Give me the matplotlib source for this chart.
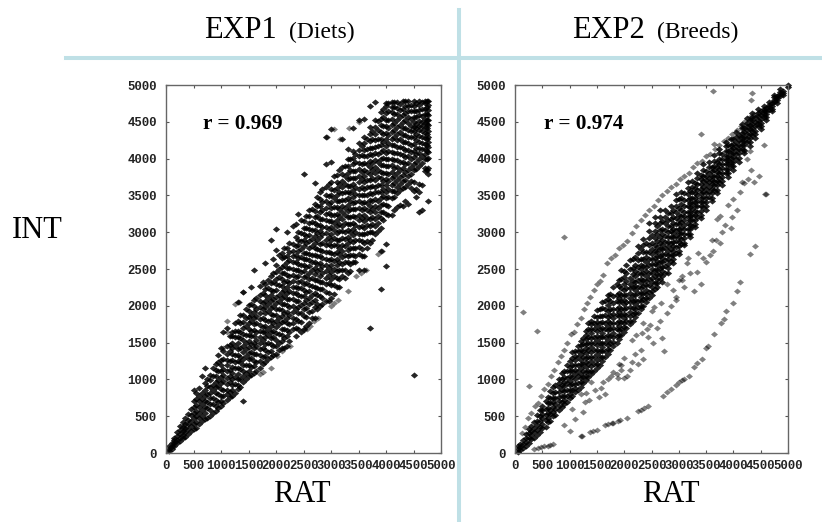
#plot.py

import matplotlib
matplotlib.use('Agg')
import matplotlib.pyplot as plt

W, H = 822, 522

ticks = [0, 500, 1000, 1500, 2000, 2500, 3000, 3500, 4000, 4500, 5000]

# EXP1 : RAT value, then the INT values read at that RAT value
exp1_rat = [50, 100, 150, 200, 250, 300, 350, 400, 450, 500, 550, 600, 650, 700, 800, 900, 1000,
            1100, 1200, 1300, 1400, 1500, 1600, 1700, 1800, 1900, 2000, 2100, 2200, 2300, 2400,
            2500, 2600, 2700, 2800, 2900, 3000, 3100, 3200, 3300, 3400, 3500, 3600, 3700, 3800,
            3900, 4000, 4100, 4200, 4300, 4400, 4500, 4600, 4700, 4770]
exp1_int = [
    [30, 60, 90],
    [60, 100, 140],
    [90, 130, 170, 210],
    [130, 180, 230, 280],
    [160, 210, 260, 310, 370],
    [200, 250, 300, 350, 420],
    [220, 280, 340, 400, 470],
    [260, 320, 390, 450, 530],
    [300, 370, 440, 510, 600],
    [330, 400, 470, 540, 620, 700, 850],
    [340, 420, 500, 570, 650, 730, 810],
    [390, 470, 540, 620, 700, 780, 880],
    [430, 500, 580, 660, 740, 820, 1050],
    [460, 540, 620, 700, 780, 860, 950, 1150],
    [500, 590, 670, 750, 820, 900, 990, 1060],
    [570, 640, 720, 810, 890, 970, 1050, 1130, 1210],
    [640, 700, 780, 870, 950, 1030, 1110, 1190, 1270, 1420],
    [720, 800, 860, 940, 1020, 1110, 1190, 1270, 1350, 1450, 1700],
    [780, 850, 930, 1010, 1090, 1170, 1260, 1340, 1420, 1500, 1590, 1650],
    [870, 920, 1000, 1080, 1160, 1250, 1330, 1410, 1490, 1570, 1660, 1790, 2050],
    [700, 960, 1040, 1120, 1200, 1280, 1370, 1450, 1530, 1620, 1700, 1780, 1870, 2190],
    [1040, 1110, 1190, 1280, 1360, 1440, 1520, 1610, 1690, 1770, 1850, 1930, 2010],
    [1090, 1180, 1250, 1340, 1420, 1500, 1590, 1670, 1750, 1840, 1920, 2000, 2080, 2490],
    [1150, 1250, 1330, 1410, 1490, 1570, 1660, 1740, 1820, 1900, 1990, 2070, 2150, 2270],
    [1240, 1320, 1400, 1480, 1570, 1650, 1730, 1810, 1900, 1980, 2060, 2150, 2230, 2300, 2580],
    [1310, 1390, 1480, 1560, 1640, 1730, 1810, 1890, 1970, 2060, 2140, 2220, 2310, 2400, 2900],
    [1340, 1460, 1540, 1630, 1710, 1790, 1880, 1960, 2040, 2120, 2210, 2290, 2370, 2460, 2560, 2760, 3040],
    [1420, 1520, 1610, 1690, 1780, 1860, 1940, 2020, 2110, 2190, 2270, 2360, 2440, 2530, 2650, 2720],
    [1460, 1590, 1670, 1760, 1840, 1920, 2010, 2090, 2170, 2260, 2340, 2420, 2510, 2590, 2680, 2790, 3000],
    [1680, 1760, 1840, 1920, 2000, 2090, 2170, 2250, 2340, 2420, 2500, 2590, 2670, 2750, 2840, 3090],
    [1680, 1800, 1900, 1990, 2070, 2150, 2240, 2320, 2400, 2490, 2570, 2650, 2740, 2820, 2900, 3000, 3250],
    [1680, 1860, 1950, 2040, 2130, 2220, 2300, 2390, 2470, 2560, 2640, 2720, 2810, 2890, 2970, 3060, 3150, 3790],
    [1760, 1920, 2020, 2110, 2200, 2280, 2370, 2450, 2540, 2620, 2710, 2790, 2880, 2960, 3050, 3130, 3220, 3300],
    [1830, 1980, 2080, 2170, 2260, 2350, 2430, 2520, 2600, 2690, 2780, 2860, 2950, 3030, 3120, 3200, 3290, 3380, 3670],
    [2000, 2130, 2230, 2320, 2410, 2500, 2580, 2670, 2760, 2840, 2930, 3010, 3100, 3180, 3270, 3360, 3450, 3550],
    [2060, 2190, 2290, 2380, 2470, 2560, 2640, 2730, 2820, 2900, 2990, 3070, 3160, 3250, 3330, 3420, 3510, 3620, 3930, 4300],
    [2100, 2280, 2370, 2460, 2550, 2630, 2720, 2810, 2890, 2980, 3070, 3150, 3240, 3330, 3410, 3500, 3590, 3680, 3950, 4400],
    [2260, 2380, 2470, 2560, 2640, 2730, 2820, 2900, 2990, 3080, 3160, 3250, 3340, 3420, 3510, 3600, 3680, 3780],
    [2410, 2490, 2570, 2660, 2750, 2830, 2920, 3010, 3090, 3180, 3270, 3350, 3440, 3530, 3610, 3700, 3790, 3890, 4260],
    [2450, 2590, 2680, 2760, 2850, 2940, 3030, 3110, 3200, 3290, 3370, 3460, 3550, 3630, 3720, 3810, 3900, 4000, 4130],
    [2600, 2690, 2780, 2870, 2960, 3040, 3130, 3220, 3310, 3390, 3480, 3570, 3650, 3740, 3830, 3920, 4010, 4110, 4420],
    [2480, 2710, 2800, 2890, 2980, 3070, 3160, 3240, 3330, 3420, 3510, 3590, 3680, 3770, 3860, 3940, 4030, 4120, 4210, 4530],
    [2490, 2670, 2850, 2970, 3060, 3150, 3240, 3330, 3410, 3500, 3590, 3680, 3760, 3850, 3940, 4030, 4120, 4210, 4300, 4540],
    [1700, 2850, 3000, 3090, 3180, 3270, 3350, 3440, 3530, 3620, 3710, 3790, 3880, 3970, 4060, 4150, 4240, 4330, 4430, 4720],
    [2980, 3090, 3180, 3270, 3360, 3450, 3540, 3620, 3710, 3800, 3890, 3980, 4070, 4160, 4250, 4340, 4430, 4520, 4770],
    [2230, 2750, 3060, 3190, 3280, 3370, 3460, 3550, 3640, 3730, 3820, 3910, 4000, 4090, 4180, 4270, 4360, 4450, 4540, 4630],
    [2540, 2840, 3250, 3370, 3460, 3550, 3640, 3720, 3810, 3900, 3990, 4080, 4170, 4260, 4350, 4440, 4530, 4620, 4710, 4760],
    [3230, 3460, 3560, 3640, 3730, 3820, 3910, 4000, 4090, 4180, 4270, 4360, 4450, 4540, 4630, 4700, 4770],
    [3340, 3530, 3620, 3710, 3800, 3890, 3980, 4070, 4160, 4250, 4340, 4430, 4520, 4610, 4690, 4770],
    [3360, 3600, 3690, 3780, 3870, 3960, 4050, 4140, 4230, 4320, 4410, 4500, 4590, 4680, 4780],
    [3380, 3650, 3760, 3850, 3940, 4030, 4120, 4210, 4300, 4390, 4480, 4570, 4650, 4720, 4780],
    [1060, 3560, 3680, 3840, 3930, 4020, 4110, 4200, 4290, 4370, 4430, 4500, 4570, 4650, 4720, 4780],
    [3280, 3540, 3660, 3900, 3990, 4070, 4150, 4230, 4310, 4390, 4440, 4510, 4590, 4660, 4730, 4780],
    [3830, 3870, 3990, 4060, 4130, 4200, 4280, 4350, 4420, 4480, 4540, 4610, 4680, 4750, 4780],
    [3430, 3790, 3870, 4010, 4090, 4160, 4230, 4300, 4380, 4450, 4520, 4590, 4660, 4730, 4780],
]

# EXP1, more points read between those stations
exp1_rat_b = [750, 860, 950, 1040, 1160, 1250, 1345, 1460, 1550, 1640, 1760, 1850, 1945, 2060, 2150, 2240,
              2360, 2450, 2540, 2660, 2750, 2840, 2960, 3050, 3140, 3260, 3350, 3440, 3560, 3650, 3740,
              3860, 3950, 4040, 4150, 4250, 4350, 4450, 4550, 4650, 4740]
exp1_int_b = [
    [480, 610, 690, 800, 905, 1010],
    [540, 660, 745, 860, 925, 1040, 1160],
    [610, 690, 800, 905, 990, 1120, 1230, 1330],
    [680, 770, 850, 975, 1060, 1140, 1280, 1390, 1640],
    [760, 830, 960, 1045, 1130, 1250, 1380, 1470, 1590],
    [820, 940, 1030, 1150, 1240, 1325, 1450, 1570, 1660, 1770],
    [900, 1010, 1140, 1230, 1310, 1430, 1560, 1640, 1770, 1880],
    [1000, 1085, 1200, 1320, 1410, 1490, 1600, 1730, 1830, 1960],
    [1060, 1170, 1290, 1375, 1480, 1590, 1660, 1790, 1880, 2020, 2260],
    [1120, 1240, 1350, 1450, 1530, 1650, 1770, 1860, 1960, 2110],
    [1210, 1300, 1420, 1530, 1640, 1710, 1840, 1960, 2040, 2170, 2330],
    [1280, 1370, 1500, 1600, 1690, 1800, 1925, 2030, 2100, 2240, 2350],
    [1330, 1450, 1580, 1660, 1770, 1870, 2000, 2090, 2200, 2330, 2440, 2640],
    [1400, 1500, 1620, 1750, 1830, 1950, 2060, 2140, 2280, 2390, 2500, 2690],
    [1430, 1560, 1680, 1800, 1900, 2020, 2130, 2210, 2330, 2440, 2550, 2660, 2780],
    [1520, 1650, 1750, 1870, 1990, 2090, 2200, 2310, 2400, 2520, 2620, 2730, 2860],
    [1590, 1700, 1820, 1950, 2060, 2170, 2260, 2390, 2480, 2600, 2690, 2810, 2930, 3110],
    [1650, 1780, 1900, 2010, 2130, 2240, 2340, 2460, 2550, 2660, 2770, 2880, 2990, 3160],
    [1720, 1850, 1970, 2080, 2190, 2310, 2400, 2530, 2630, 2720, 2850, 2950, 3060, 3220],
    [1830, 1930, 2050, 2150, 2270, 2380, 2490, 2600, 2690, 2810, 2910, 3030, 3140, 3310],
    [1950, 2030, 2140, 2240, 2350, 2470, 2570, 2670, 2770, 2890, 2990, 3100, 3220, 3350, 3480],
    [2020, 2110, 2230, 2330, 2440, 2540, 2650, 2750, 2860, 2970, 3070, 3180, 3300, 3410, 3590],
    [2070, 2180, 2310, 2420, 2520, 2620, 2730, 2840, 2940, 3050, 3150, 3260, 3380, 3490, 3650],
    [2160, 2280, 2410, 2500, 2610, 2710, 2820, 2920, 3030, 3130, 3240, 3340, 3470, 3570, 3760],
    [2260, 2360, 2480, 2590, 2700, 2790, 2900, 3010, 3110, 3220, 3320, 3430, 3550, 3650, 3840],
    [2380, 2480, 2600, 2690, 2810, 2910, 3000, 3120, 3230, 3330, 3440, 3540, 3650, 3770, 3900],
    [2470, 2570, 2690, 2790, 2900, 3000, 3110, 3210, 3320, 3420, 3530, 3630, 3740, 3850, 4000],
    [2600, 2670, 2790, 2890, 3000, 3100, 3200, 3310, 3410, 3520, 3620, 3730, 3830, 3950, 4060],
    [2680, 2770, 2880, 2980, 3090, 3190, 3300, 3400, 3510, 3610, 3720, 3820, 3930, 4050, 4170],
    [2790, 2880, 2990, 3100, 3190, 3300, 3400, 3510, 3610, 3710, 3820, 3920, 4030, 4130, 4260],
    [2900, 3000, 3110, 3210, 3320, 3420, 3520, 3630, 3730, 3840, 3940, 4050, 4150, 4270, 4380],
    [3010, 3120, 3220, 3330, 3430, 3540, 3640, 3750, 3850, 3960, 4060, 4170, 4270, 4390, 4510],
    [3170, 3280, 3380, 3490, 3590, 3700, 3800, 3910, 4010, 4120, 4220, 4330, 4440, 4560, 4680],
    [3240, 3350, 3480, 3590, 3690, 3790, 3900, 4000, 4110, 4210, 4320, 4420, 4530, 4640, 4750],
    [3300, 3480, 3560, 3670, 3770, 3870, 3980, 4080, 4190, 4290, 4390, 4490, 4600, 4700, 4770],
    [3370, 3570, 3650, 3750, 3850, 3950, 4060, 4160, 4260, 4360, 4460, 4560, 4660, 4740],
    [3420, 3620, 3710, 3820, 3920, 4020, 4120, 4220, 4320, 4420, 4520, 4620, 4710, 4780],
    [3600, 3700, 3790, 3890, 3990, 4090, 4190, 4290, 4380, 4440, 4540, 4640, 4730],
    [3480, 3590, 3860, 3960, 4060, 4150, 4250, 4330, 4410, 4470, 4560, 4650, 4750],
    [3300, 3640, 3940, 4040, 4130, 4210, 4300, 4370, 4440, 4500, 4580, 4680, 4770],
    [3840, 4000, 4100, 4180, 4260, 4340, 4410, 4470, 4530, 4610, 4700, 4780],
]

# EXP1 streaks under the band and stray points over it
exp1_sc_rat = [1700, 1760, 1900, 2020, 2100, 2250, 2510, 2560, 2610, 2690, 2760, 3000, 3060, 3130, 3300,
               3450, 3550, 3630, 3860, 3920, 1030, 1100, 1250, 1330, 1400, 1100, 3170, 3320, 3500, 2920, 3050]
exp1_sc_int = [1070, 1100, 1150, 1320, 1380, 1450, 1670, 1690, 1720, 1800, 1830, 2000, 2040, 2080, 2200,
               2400, 2450, 2480, 2700, 2750, 1430, 1640, 2030, 2050, 2190, 1800, 4260, 4420, 4500, 4300, 4400]

# EXP2 : main band
exp2_rat = [50, 100, 200, 300, 400, 500, 600, 700, 800, 900, 1000, 1100, 1200, 1300, 1400, 1500,
            1600, 1700, 1800, 1900, 2000, 2100, 2200, 2300, 2400, 2500, 2600, 2700, 2800, 2900,
            3000, 3100, 3200, 3300, 3400, 3500, 3600, 3700, 3800, 3900, 4000, 4100, 4200, 4300,
            4400, 4500, 4600, 4700, 4800, 4900, 5000]
exp2_int = [
    [20, 50, 90],
    [40, 80, 120],
    [100, 150, 200, 260],
    [190, 240, 300, 370],
    [250, 310, 380, 440, 510],
    [340, 400, 470, 530, 590, 640],
    [420, 480, 550, 610, 680, 760],
    [500, 560, 620, 690, 750, 820, 890],
    [580, 640, 700, 760, 830, 890, 950, 1010],
    [670, 720, 780, 840, 910, 970, 1030, 1120],
    [750, 800, 860, 920, 980, 1050, 1110, 1170, 1250],
    [830, 880, 940, 1000, 1070, 1130, 1190, 1260, 1320, 1390],
    [900, 960, 1020, 1080, 1150, 1210, 1270, 1340, 1400, 1470, 1520],
    [990, 1040, 1100, 1170, 1230, 1290, 1360, 1420, 1480, 1550, 1610, 1660],
    [1070, 1120, 1180, 1250, 1310, 1370, 1440, 1500, 1560, 1630, 1690, 1750, 1800],
    [1150, 1210, 1270, 1340, 1400, 1470, 1530, 1590, 1660, 1720, 1780, 1850, 1940],
    [1250, 1310, 1380, 1440, 1500, 1570, 1630, 1700, 1780, 1860, 1970, 2050],
    [1350, 1410, 1470, 1540, 1600, 1670, 1730, 1790, 1850, 1930, 2010, 2090, 2150],
    [1450, 1510, 1570, 1630, 1700, 1760, 1830, 1890, 1950, 2040, 2130, 2250],
    [1550, 1610, 1670, 1730, 1790, 1860, 1920, 1980, 2050, 2110, 2180, 2270, 2350],
    [1650, 1710, 1770, 1830, 1890, 1950, 2020, 2080, 2140, 2210, 2300, 2390, 2470],
    [1750, 1800, 1860, 1920, 1990, 2050, 2110, 2170, 2240, 2300, 2380, 2500, 2620],
    [1850, 1900, 1960, 2020, 2080, 2150, 2210, 2270, 2330, 2400, 2470, 2560, 2660],
    [1950, 2000, 2060, 2120, 2180, 2240, 2310, 2370, 2430, 2500, 2560, 2640, 2770],
    [2050, 2100, 2160, 2220, 2280, 2340, 2410, 2470, 2530, 2600, 2660, 2730, 2850],
    [2150, 2200, 2260, 2320, 2380, 2440, 2500, 2570, 2630, 2700, 2770, 2860, 2960],
    [2260, 2310, 2370, 2430, 2490, 2550, 2610, 2670, 2730, 2800, 2880, 2970, 3080],
    [2330, 2400, 2470, 2530, 2590, 2650, 2710, 2770, 2830, 2900, 2970, 3040, 3150],
    [2450, 2510, 2570, 2630, 2690, 2750, 2810, 2870, 2930, 3000, 3080, 3170, 3260],
    [2580, 2630, 2690, 2750, 2810, 2870, 2930, 2990, 3050, 3120, 3200, 3300],
    [2700, 2750, 2810, 2870, 2930, 2990, 3050, 3110, 3170, 3240, 3330, 3450],
    [2820, 2860, 2920, 2980, 3040, 3100, 3160, 3220, 3280, 3350, 3440, 3530],
    [2940, 2980, 3040, 3100, 3160, 3220, 3280, 3340, 3400, 3470, 3560],
    [3070, 3110, 3170, 3230, 3290, 3350, 3410, 3470, 3530, 3600, 3670],
    [3190, 3230, 3290, 3350, 3410, 3470, 3530, 3590, 3650, 3720, 3780],
    [3300, 3350, 3410, 3470, 3530, 3590, 3650, 3710, 3770, 3830],
    [3420, 3470, 3530, 3590, 3650, 3710, 3770, 3830, 3890],
    [3530, 3580, 3640, 3700, 3760, 3820, 3880, 3950],
    [3640, 3690, 3750, 3810, 3870, 3930, 4000, 4060],
    [3750, 3800, 3860, 3920, 3980, 4040, 4100, 4180],
    [3850, 3900, 3960, 4020, 4080, 4140, 4200, 4260],
    [3960, 4010, 4070, 4130, 4190, 4250, 4320],
    [4070, 4120, 4180, 4240, 4300, 4360, 4420],
    [4170, 4220, 4280, 4340, 4400, 4460, 4530],
    [4280, 4330, 4380, 4440, 4500, 4570],
    [4400, 4440, 4490, 4540, 4590, 4640],
    [4520, 4560, 4610, 4650, 4690],
    [4640, 4680, 4720, 4760],
    [4760, 4790, 4820, 4850],
    [4860, 4890, 4920],
    [4970, 5000],
]

# EXP2, more points read between those stations
exp2_rat_b = [150, 250, 345, 450, 560, 650, 740, 860, 950, 1040, 1160, 1250, 1340, 1450, 1560, 1650, 1740,
              1860, 1950, 2040, 2160, 2250, 2340, 2450, 2560, 2650, 2740, 2860, 2950, 3040, 3160, 3250,
              3340, 3450, 3560, 3650, 3740, 3860, 3950, 4040, 4160, 4250, 4340, 4450, 4560, 4650, 4750, 4850]
exp2_int_b = [
    [70, 120, 170],
    [140, 200, 265, 330],
    [200, 285, 340, 420],
    [290, 355, 440, 500, 580],
    [360, 450, 510, 600, 700],
    [440, 530, 590, 680, 750, 840],
    [520, 600, 670, 750, 830, 920],
    [620, 690, 770, 850, 930, 1010, 1090],
    [690, 780, 860, 950, 1020, 1110, 1200],
    [780, 860, 940, 1030, 1120, 1190, 1290, 1370],
    [860, 950, 1040, 1120, 1200, 1300, 1380, 1460],
    [950, 1030, 1120, 1210, 1300, 1390, 1480, 1560],
    [1030, 1120, 1210, 1300, 1400, 1490, 1580, 1680, 1760],
    [1110, 1210, 1300, 1400, 1490, 1580, 1680, 1770, 1860],
    [1200, 1300, 1390, 1490, 1580, 1680, 1770, 1860, 1960],
    [1300, 1390, 1490, 1580, 1680, 1770, 1870, 1960, 2060],
    [1400, 1490, 1590, 1680, 1770, 1870, 1960, 2060, 2160],
    [1500, 1590, 1680, 1770, 1870, 1960, 2060, 2150, 2290],
    [1600, 1690, 1780, 1870, 1960, 2060, 2150, 2240, 2360, 2480],
    [1700, 1790, 1870, 1970, 2050, 2150, 2240, 2340, 2440, 2560],
    [1800, 1890, 1970, 2070, 2150, 2250, 2340, 2430, 2520, 2640],
    [1900, 1990, 2070, 2170, 2250, 2350, 2440, 2530, 2620, 2720, 2810],
    [2000, 2090, 2170, 2270, 2350, 2450, 2540, 2630, 2730, 2820, 2910],
    [2110, 2190, 2280, 2370, 2450, 2550, 2640, 2730, 2820, 2920, 3010, 3120],
    [2230, 2310, 2400, 2480, 2570, 2650, 2740, 2830, 2920, 3020, 3120, 3210],
    [2360, 2430, 2520, 2600, 2680, 2770, 2850, 2940, 3030, 3120, 3210, 3300],
    [2450, 2540, 2620, 2710, 2790, 2870, 2950, 3030, 3120, 3210, 3300],
    [2610, 2690, 2770, 2850, 2930, 3010, 3090, 3180, 3260, 3350],
    [2720, 2800, 2880, 2950, 3030, 3110, 3190, 3270, 3350, 3440, 3520],
    [2840, 2910, 2990, 3060, 3140, 3220, 3300, 3380, 3460, 3540],
    [2980, 3050, 3130, 3200, 3280, 3360, 3440, 3520, 3600, 3680],
    [3090, 3160, 3240, 3310, 3390, 3460, 3540, 3620, 3700],
    [3210, 3280, 3350, 3420, 3500, 3570, 3650, 3730, 3800],
    [3340, 3410, 3480, 3550, 3620, 3690, 3770, 3840, 3920],
    [3480, 3540, 3610, 3680, 3740, 3810, 3880, 3960],
    [3570, 3640, 3700, 3770, 3840, 3900, 3970, 4050],
    [3680, 3740, 3800, 3860, 3930, 4000, 4070, 4130],
    [3810, 3860, 3920, 3980, 4040, 4100, 4170, 4230],
    [3900, 3960, 4010, 4070, 4130, 4190, 4260],
    [4000, 4060, 4120, 4170, 4230, 4290, 4360],
    [4130, 4180, 4240, 4290, 4350, 4410, 4470],
    [4230, 4280, 4330, 4390, 4440, 4490, 4550],
    [4320, 4370, 4420, 4470, 4520, 4570, 4620],
    [4440, 4490, 4530, 4580, 4620, 4670],
    [4560, 4600, 4640, 4680, 4720],
    [4660, 4700, 4730, 4770],
    [4770, 4800, 4840, 4870],
    [4850, 4880, 4910, 4940],
]

# upper arc
arc_rat = [120, 180, 240, 300, 360, 420, 480, 540, 600, 660, 720, 780, 840, 900, 960, 1020, 1080, 1140,
           1200, 1260, 1320, 1380, 1440, 1500, 1560, 1620, 1680, 1760, 1840, 1900, 1980, 2060, 2140,
           2220, 2300, 2380, 2460, 2540, 2620, 2700, 2780, 2860, 2940, 3020, 3100, 3180, 3260, 3340,
           3420, 3500, 3580, 3660, 3740, 3820, 3900, 3980, 4060, 4140, 4220, 4300, 4380, 4460]
arc_int = [270, 350, 470, 540, 640, 680, 770, 870, 940, 1040, 1130, 1240, 1320, 1400, 1490, 1620, 1650,
           1750, 1830, 1960, 2040, 2120, 2220, 2290, 2340, 2420, 2580, 2650, 2690, 2790, 2830, 2880, 2990,
           3090, 3170, 3230, 3300, 3360, 3440, 3510, 3560, 3620, 3660, 3720, 3760, 3810, 3880, 3940,
           3970, 4030, 4060, 4130, 4190, 4240, 4280, 4330, 4390, 4440, 4510, 4560, 4610, 4630]

# lower curve and bottom left tail
low_rat = [1200, 1220, 1380, 1430, 1500, 1640, 1700, 1770, 1800, 1880, 1930, 2050, 2250, 2310, 2370, 2440,
           2710, 2790, 2850, 2950, 3000, 3050, 3090, 3180, 3270, 3340, 3420, 3500, 3530, 3650, 3780, 3820,
           3870, 3990, 4070, 4120, 350, 430, 480, 540, 600, 650, 700]
low_int = [230, 230, 290, 300, 310, 380, 390, 410, 410, 440, 450, 480, 570, 590, 610, 640,
           780, 830, 870, 920, 960, 990, 1010, 1050, 1170, 1220, 1280, 1430, 1450, 1620, 1770, 1820,
           1930, 2040, 2200, 2330, 50, 70, 80, 90, 100, 110, 120]

# scatter below the band and outliers
sc_rat = [150, 400, 250, 900, 3630, 4340, 4320, 3400, 3650, 4580, 4600, 4300, 4400, 1200, 1250, 1300, 1280, 1350,
          1400, 1470, 1530, 1580, 1620, 1650, 1700, 1750, 1860, 1900, 1950, 2000, 2050, 2100, 2150, 2200,
          2250, 2300, 2350, 1800, 1880, 1950, 2000, 2150, 2220, 2330, 2440, 2480, 2530, 2600, 2650, 2690,
          2730, 2780, 2850, 2900, 2950, 3010, 2340, 2420, 2500, 2550, 2680, 2780, 2950, 3050, 3100, 3160,
          3280, 3330, 3400, 3440, 3500, 3570, 3630, 3680, 3750, 3800, 3850, 3950, 3980, 3050, 3150, 3200,
          3350, 3600, 3700, 3760, 3900, 4000, 4060, 4120, 4160, 4200, 4260, 4320, 4380, 4460, 4560, 4200,
          4250, 4120, 4300, 900, 1000, 1050, 1100]
sc_int = [1920, 1660, 910, 2940, 4920, 4890, 4800, 4340, 4200, 3520, 3520, 2710, 2810, 800, 560, 820, 690, 720,
          970, 850, 760, 880, 960, 800, 1000, 1050, 1080, 1210, 1130, 1020, 1050, 1130, 1230, 1340, 1210,
          1400, 1280, 1100, 1020, 1190, 1290, 1530, 1600, 1630, 1580, 1740, 1500, 1700, 1800, 1560,
          1380, 1900, 2000, 2210, 2080, 2350, 1760, 1680, 1930, 1980, 2040, 2290, 2120, 2400, 2250, 2650,
          2200, 2460, 2300, 2650, 2600, 2690, 2750, 2900, 2850, 3000, 3100, 3060, 3200, 2350, 2580, 2450,
          2720, 2900, 3180, 3220, 3370, 3450, 3300, 3550, 3680, 3670, 3720, 3850, 3680, 3760, 4180, 4100,
          3990, 4300, 4110, 380, 300, 600, 460]

diamond = [(-1, 0), (0, 0.85), (1, 0), (0, -0.85)]


def flat(rat, ints):
    xs = []
    ys = []
    for r, row in zip(rat, ints):
        for v in row:
            xs.append(r)
            ys.append(v)
    return xs, ys


def panel(left, right, band_x, band_y, stray_x, stray_y):
    top = 85
    bottom = 453
    ax = fig.add_axes([left / W, 1 - bottom / H, (right - left) / W, (bottom - top) / H])
    ax.plot(stray_x, stray_y, ls='none', marker=diamond, ms=5, mew=0, color='k', alpha=0.5, clip_on=False)
    ax.plot(band_x, band_y, ls='none', marker=diamond, ms=5.2, mew=0, color='k', alpha=0.85, clip_on=False)
    ax.set_xlim(0, 5000)
    ax.set_ylim(0, 5000)
    ax.set_xticks(ticks)
    ax.set_yticks(ticks)
    ax.tick_params(axis='x', pad=5)
    ax.tick_params(axis='y', pad=6.5)
    ax.tick_params(direction='in', length=2.5, width=0.8, color='#555555', top=True, right=True)
    for lab in ax.get_xticklabels() + ax.get_yticklabels():
        lab.set_family('Liberation Mono')
        lab.set_weight('bold')
        lab.set_fontsize(8.8)
        lab.set_color('#222222')
    for sp in ax.spines.values():
        sp.set_color('#666666')
        sp.set_linewidth(1)
    return ax


fig = plt.figure(figsize=(W / 100, H / 100), dpi=100, facecolor='white')
plt.rcParams['font.family'] = ['Liberation Serif']

xs1, ys1 = flat(exp1_rat, exp1_int)
xs1b, ys1b = flat(exp1_rat_b, exp1_int_b)
ax1 = panel(166, 441, xs1 + xs1b, ys1 + ys1b, exp1_sc_rat, exp1_sc_int)
xs2, ys2 = flat(exp2_rat, exp2_int)
xs2b, ys2b = flat(exp2_rat_b, exp2_int_b)
ax2 = panel(515, 788, xs2 + xs2b, ys2 + ys2b, arc_rat + low_rat + sc_rat, arc_int + low_int + sc_int)

# blue cross
fig.add_artist(plt.Line2D([66 / W, 1], [1 - 58 / H, 1 - 58 / H], color='#bfe0e6', lw=2.9))
fig.add_artist(plt.Line2D([459 / W, 459 / W], [0, 1 - 10 / H], color='#bfe0e6', lw=2.9))


def txt(x, y, s, size, **kw):
    fig.text(x / W, 1 - y / H, s, fontsize=size, color='k', va='baseline', **kw)


txt(204, 38, 'EXP1', 22)
txt(289, 38, '(Diets)', 17)
txt(572, 38, 'EXP2', 22)
txt(657, 38, '(Breeds)', 17)
txt(12, 238, 'INT', 22)
txt(273, 502, 'RAT', 22)
txt(642, 502, 'RAT', 22)
txt(203, 129, 'r = 0.969', 15.3, weight='bold')
txt(544, 129, 'r = 0.974', 15.3, weight='bold')

fig.savefig('out.png', dpi=100)
